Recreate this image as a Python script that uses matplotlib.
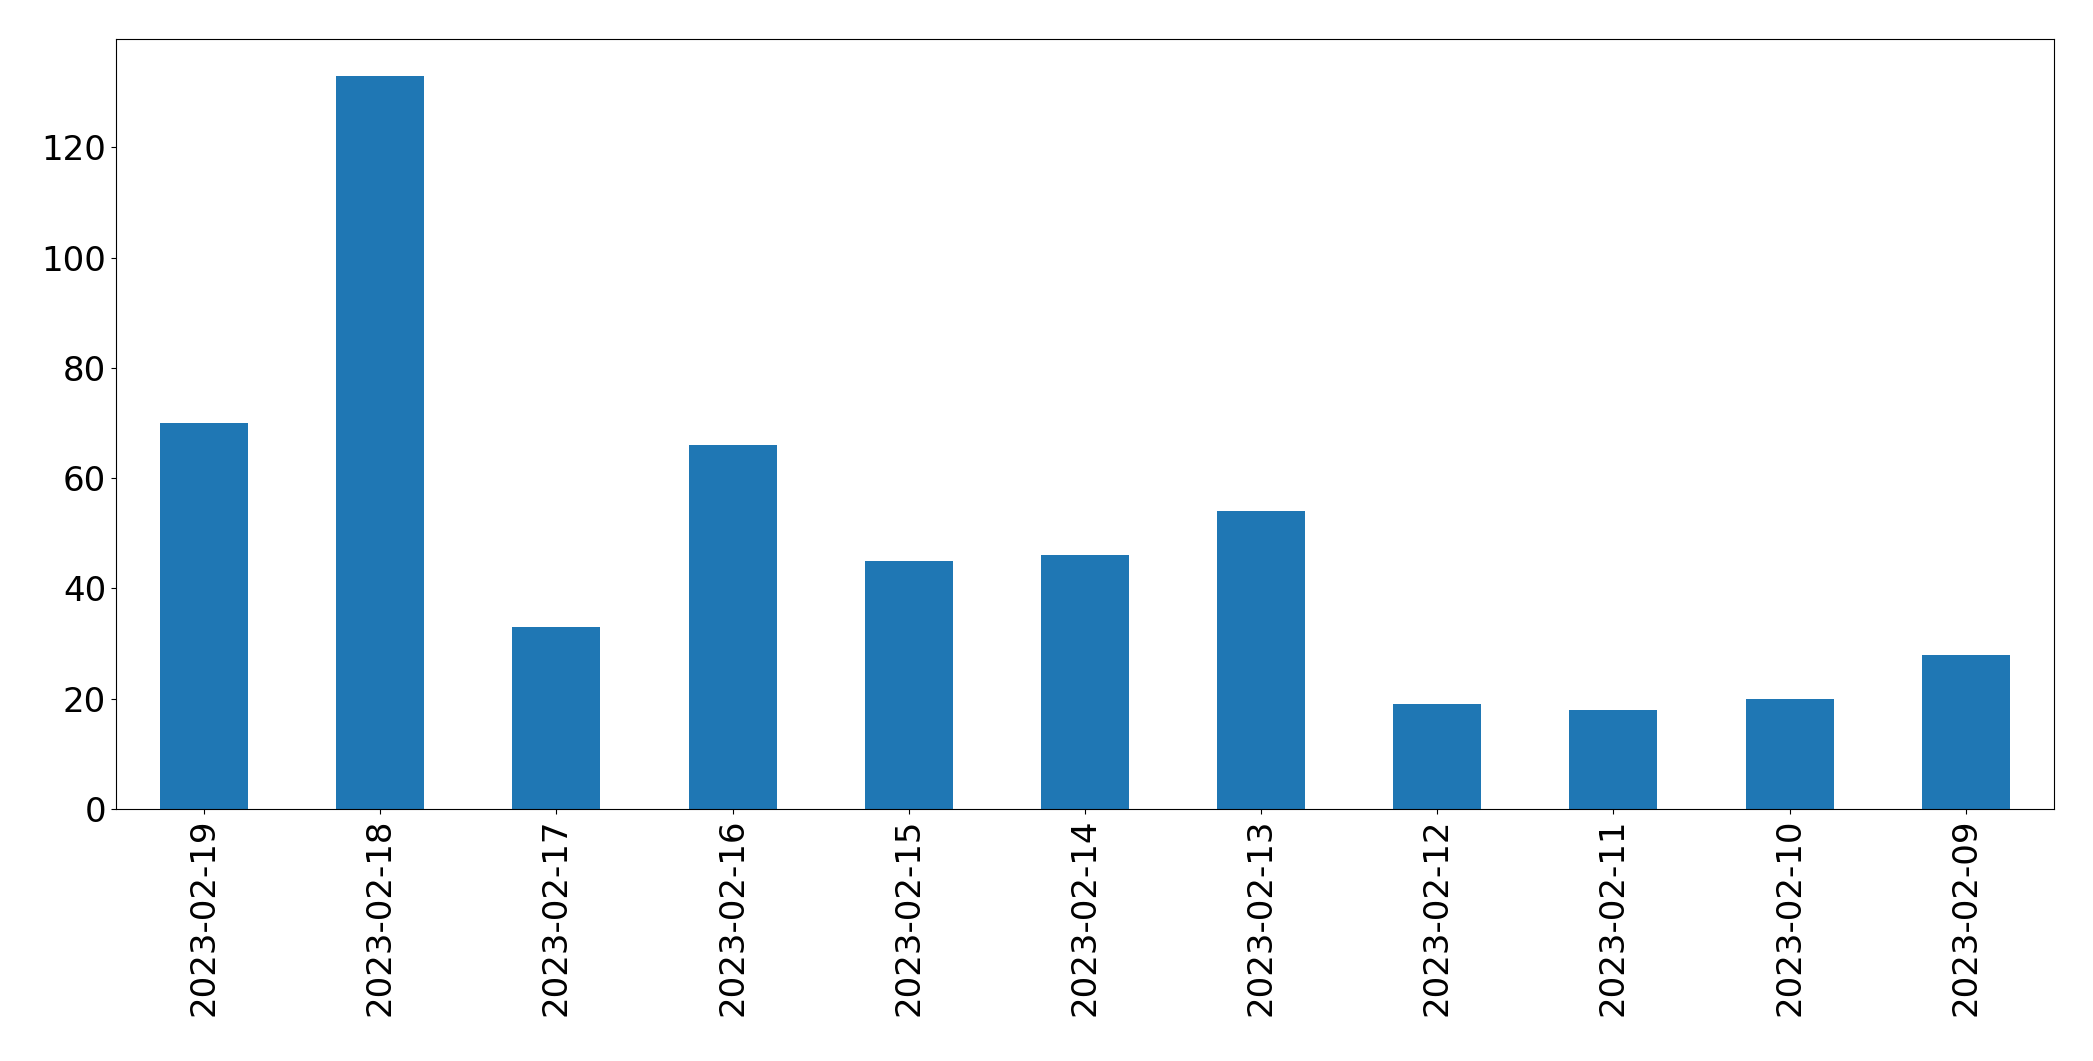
import matplotlib
matplotlib.use("Agg")
import matplotlib.pyplot as plt
import pandas as pd

# daily counts, newest first (as in the reference)
dates = ["2023-02-19", "2023-02-18", "2023-02-17", "2023-02-16", "2023-02-15",
         "2023-02-14", "2023-02-13", "2023-02-12", "2023-02-11", "2023-02-10",
         "2023-02-09"]
counts = [70, 133, 33, 66, 45, 46, 54, 19, 18, 20, 28]

s = pd.Series(counts, index=dates)

fig = plt.figure(figsize=(20.93, 10.61), dpi=100)
ax = fig.add_axes([0.0554, 0.2375, 0.9259, 0.7257])
s.plot(kind="bar", ax=ax, color="#1f77b4", width=0.5)

ax.tick_params(axis="both", labelsize=24.5)
plt.setp(ax.get_xticklabels(), rotation=90)

fig.savefig("out.png", dpi=100)
plt.close(fig)
